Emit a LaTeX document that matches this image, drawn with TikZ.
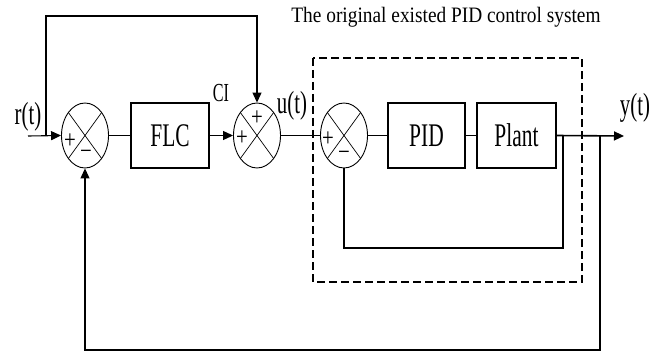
\documentclass[tikz,border=0pt]{standalone}
\usepackage{fontspec}
\setmainfont{Liberation Serif}
\usetikzlibrary{shapes.geometric,arrows.meta,calc}
\newcommand\sq[2][0.65]{\scalebox{#1}[1]{#2}}
\begin{document}
\begin{tikzpicture}[x=1pt,y=-1pt,
  line width=1.1pt,
  sumj/.style={ellipse,draw,line width=0.9pt,minimum width=47pt,minimum height=65pt,inner sep=0pt,
    path picture={\draw[line width=0.7pt] (path picture bounding box.north west)--(path picture bounding box.south east)
      (path picture bounding box.north east)--(path picture bounding box.south west);}},
  blk/.style={draw,rectangle,minimum height=65pt,inner sep=0pt,font=\fontsize{33}{33}\selectfont},
  lbl/.style={font=\fontsize{32}{32}\selectfont,inner sep=0pt},
  sgn/.style={font=\fontsize{26}{26}\selectfont,inner sep=0pt},
  arr/.style={-{Triangle[length=10pt,width=9pt]}}]
\useasboundingbox (0,0) rectangle (662,353);
\fill[white] (0,0) rectangle (662,353);
% blocks
\node[sumj] (s1) at (85,135.5) {};
\node[blk,minimum width=78pt] (flc) at (170,135.5) {\sq{FLC}};
\node[sumj] (s2) at (257,135.5) {};
\node[sumj] (s3) at (344,135.5) {};
\node[blk,minimum width=77pt] (pid) at (426.5,135.5) {\sq{PID}};
\node[blk,minimum width=79pt] (plant) at (516.5,135.5) {\sq{Plant}};
% labels
\node[lbl] (rt) at (28,117) {\sq{r(t)}};
\node[font=\fontsize{26}{26}\selectfont,inner sep=0pt] (ci) at (221,93) {\sq[0.62]{CI}};
\node[lbl] (ut) at (292,106) {\sq{u(t)}};
\node[lbl] (yt) at (635,108) {\sq{y(t)}};
\node[font=\fontsize{22}{22}\selectfont,inner sep=0pt] (title) at (446,17) {\sq[0.88]{The original existed PID control system}};
% signs
\node[sgn] (p1) at (70,141) {\sq[0.8]{+}};
\node[sgn] (m1) at (86,155) {\sq[0.8]{\textminus}};
\node[sgn] (p2a) at (257,118) {\sq[0.8]{+}};
\node[sgn] (p2b) at (242,138) {\sq[0.8]{+}};
\node[sgn] (p3) at (328,139) {\sq[0.8]{+}};
\node[sgn] (m3) at (344,156) {\sq[0.8]{\textminus}};
% coordinates
\coordinate (rin) at (28,136);
\coordinate (j1) at (46,136);
\coordinate (ttop) at (257,16);
\coordinate (j2) at (563,136);
\coordinate (ib) at (344,248);
\coordinate (j3) at (600,136);
\coordinate (ob) at (85,350);
\coordinate (yout) at (624,136);
% connectors
\draw[arr] (rin) -- (s1.west);
\draw[arr] (j1) |- (ttop) -- (s2.north);
\draw (s1.east) -- (flc.west);
\draw[arr] (flc.east) -- (s2.west);
\draw (s2.east) -- (s3.west);
\draw (s3.east) -- (pid.west);
\draw (pid.east) -- (plant.west);
\draw[arr,line width=1.6pt] (plant.east) -- (yout);
\draw (j2) |- (ib) -- (s3.south);
\draw[arr] (j3) |- (ob) -- (s1.south);
% dashed box
\draw[dash pattern=on 8pt off 4pt] (313,58) rectangle (582,282);
\end{tikzpicture}
\end{document}
